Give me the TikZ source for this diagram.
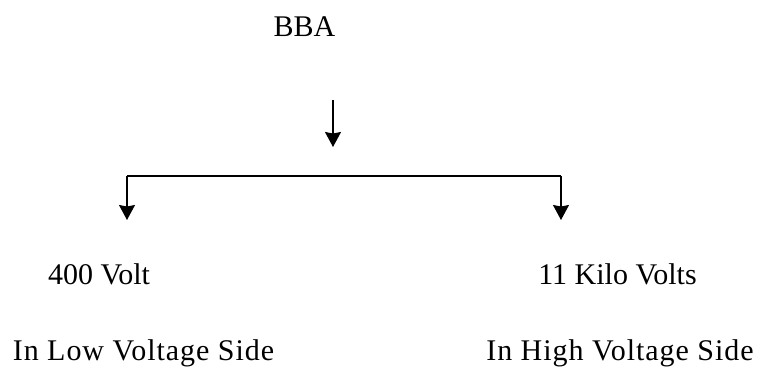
\documentclass[tikz,border=0pt]{standalone}
\usepackage{fontspec}
\setmainfont{Liberation Serif}
\usetikzlibrary{arrows.meta}
\begin{document}
\begin{tikzpicture}[x=1pt,y=1pt,
  lbl/.style={inner sep=0pt,anchor=base,font=\fontsize{30}{36}\selectfont},
  wide/.style={lbl,font=\fontsize{30}{36}\selectfont\addfontfeature{LetterSpace=3.2}},
  conn/.style={line width=1.3pt,black},
  arr/.style={conn,-{Stealth[length=15pt,width=16pt,inset=1.5pt]}}]
\useasboundingbox (0,0) rectangle (758,370);
\node[lbl] (bba) at (304.5,333) {BBA};
\node[lbl] (lv) at (99,86) {400 Volt};
\node[wide] (lvs) at (143.5,10) {In Low Voltage Side};
\node[lbl] (hv) at (617.5,86) {11 Kilo Volts};
\node[wide] (hvs) at (620,10) {In High Voltage Side};
\coordinate (ctop) at (333,270);
\coordinate (ctip) at (333,223);
\coordinate (bl) at (127,194);
\coordinate (br) at (561,194);
\coordinate (ltip) at (127,150);
\coordinate (rtip) at (561,150);
\draw[arr] (ctop) -- (ctip);
\draw[conn] (bl) -- (br);
\draw[arr] (bl) -- (ltip);
\draw[arr] (br) -- (rtip);
\end{tikzpicture}
\end{document}
